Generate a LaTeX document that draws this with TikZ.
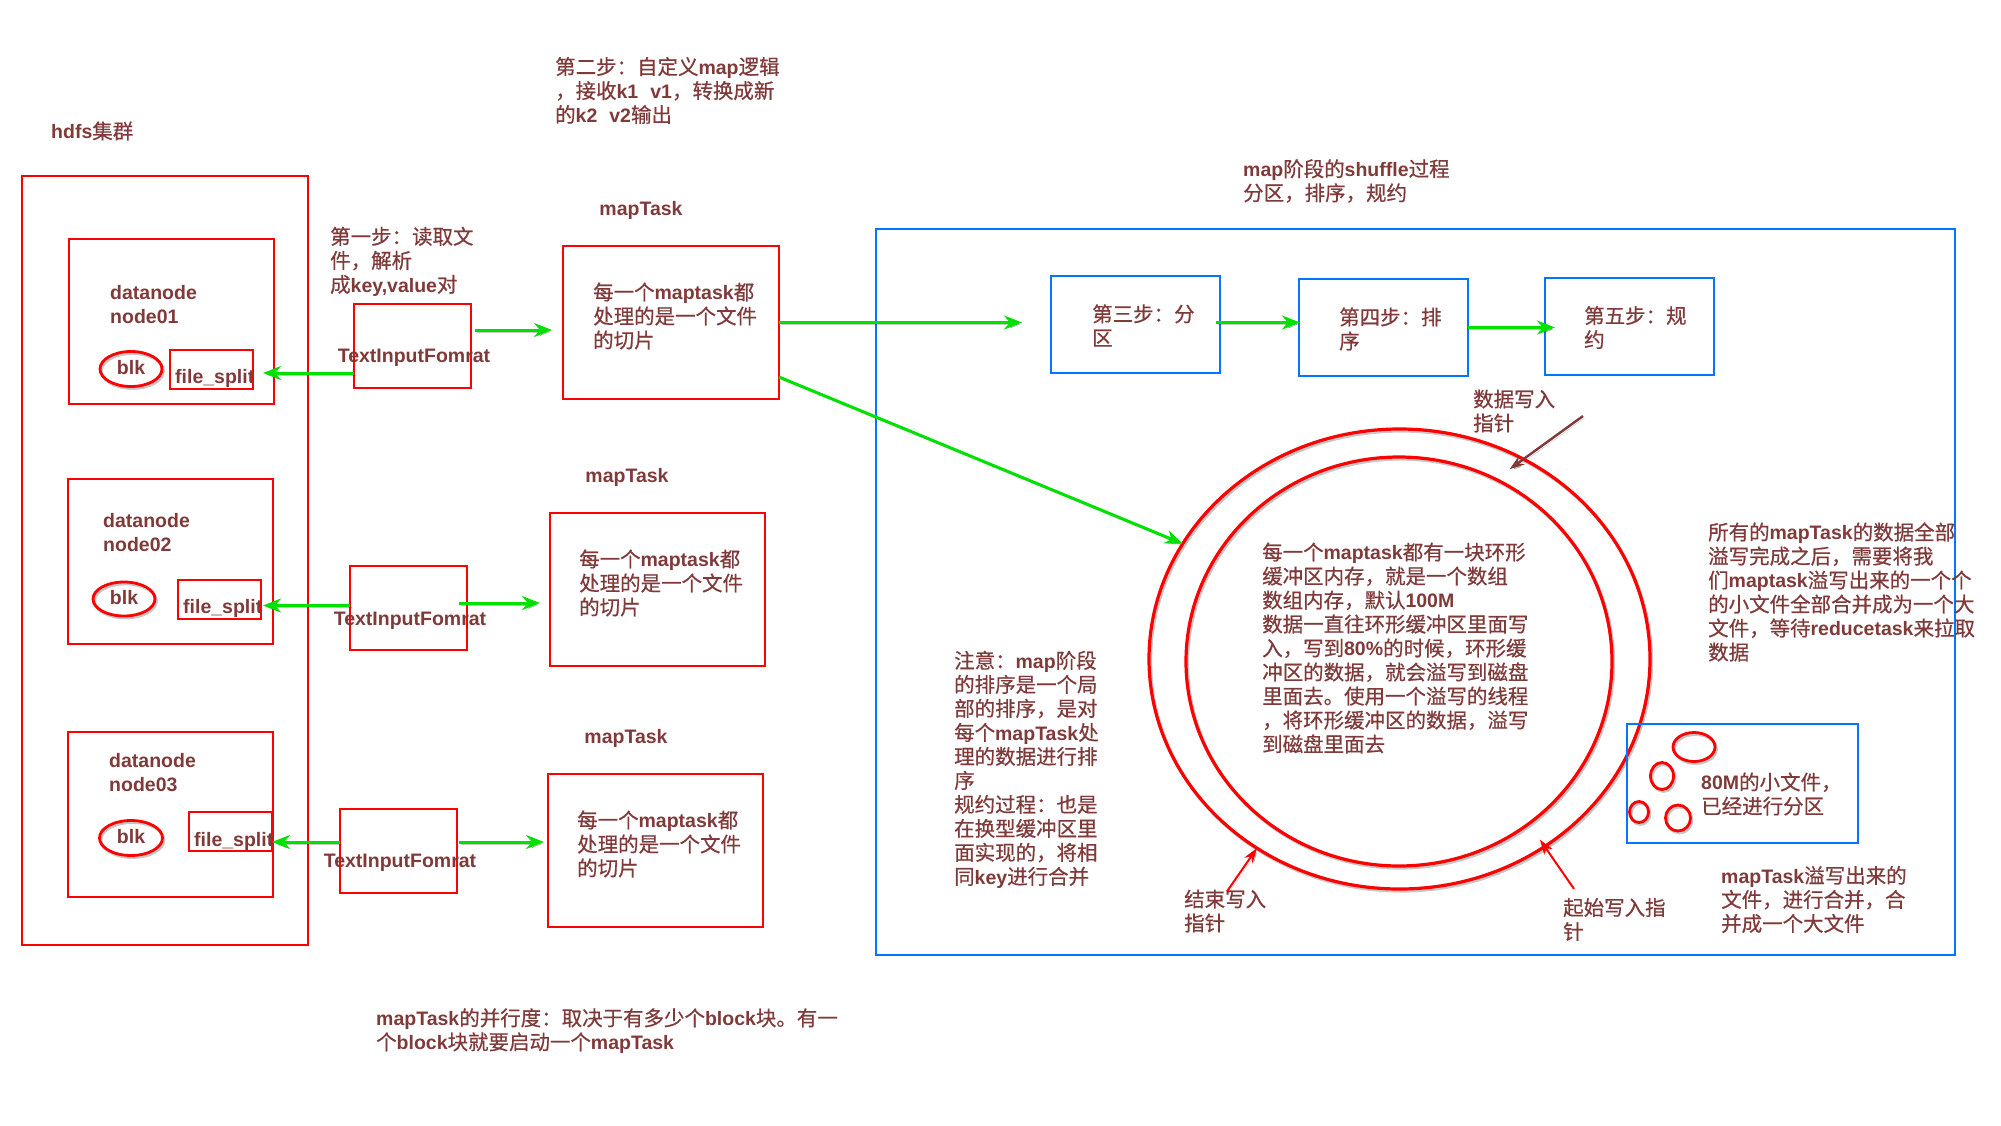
\documentclass[tikz,border=0pt]{standalone}
\usepackage{fontspec}
\usetikzlibrary{shapes.geometric,arrows.meta,calc}
\setmainfont{Liberation Sans}
\newfontfamily\cjkfam{Noto Sans CJK SC}[Scale=1.05, FakeBold=0.6]
\newcommand\latf{\normalfont\bfseries}
\newcommand\cjkf{\cjkfam\mdseries}
% switch fonts automatically between Latin and CJK runs
\XeTeXinterchartokenstate=1
\newXeTeXintercharclass\cjkclass
\newcount\cjkcnt
\newcommand\cjkrange[2]{\cjkcnt=#1\relax
  \loop\XeTeXcharclass\cjkcnt=\cjkclass\relax
  \advance\cjkcnt by 1\relax\ifnum\cjkcnt<#2\relax\repeat}
\cjkrange{"3000}{"3040}
\cjkrange{"4E00}{"A000}
\cjkrange{"FF00}{"FFF0}
\XeTeXinterchartoks 0 \cjkclass = {\cjkf}
\XeTeXinterchartoks 4095 \cjkclass = {\cjkf}
\XeTeXinterchartoks \cjkclass 0 = {\latf}
\XeTeXinterchartoks \cjkclass 4095 = {\latf}

\definecolor{txt}{RGB}{128,58,58}
\definecolor{bblue}{RGB}{0,118,255}
\definecolor{ggreen}{RGB}{0,225,0}

% rectangle node from its two corners
\newcommand\rectnode[6]{%
  \pgfmathsetmacro\rnx{(#3+#5)/2}%
  \pgfmathsetmacro\rny{(#4+#6)/2}%
  \pgfmathsetmacro\rnw{#5-#3}%
  \pgfmathsetmacro\rnh{#6-#4}%
  \node[#1, minimum width=\rnw pt, minimum height=\rnh pt] (#2) at (\rnx,\rny) {};}

\begin{document}
\begin{tikzpicture}[x=1pt,y=-1pt,
  lbl/.style={text=txt, font=\fontsize{19.5}{24}\selectfont\latf, inner sep=0pt, align=left, anchor=west},
  clbl/.style={lbl, anchor=center},
  shade/.style={preaction={draw=black, opacity=0.22, transform canvas={shift={(1.5pt,-2pt)}}}},
  rbox/.style={rectangle, draw=red, line width=2.6pt, inner sep=0pt, outer sep=0pt},
  bbox/.style={rectangle, draw=bblue, line width=2.6pt, inner sep=0pt, outer sep=0pt},
  rell/.style={ellipse, draw=red, line width=2.8pt, inner sep=0pt, outer sep=0pt, shade,
    text=txt, font=\fontsize{19.5}{24}\selectfont\latf},
  ring/.style={ellipse, draw=red, line width=3.2pt, inner sep=0pt, outer sep=0pt, shade},
  garrow/.style={draw=ggreen, line width=3pt, shade, -{Stealth[length=18pt,width=14pt]}},
  rarrow/.style={draw=red, line width=2pt, shade, -{Stealth[length=15pt,width=10pt]}},
  marrow/.style={draw=txt, line width=2.4pt, shade, -{Stealth[length=15pt,width=10pt]}}]

\fill[white] (0,0) rectangle (2001,1125);
\useasboundingbox (0,0) rectangle (2001,1125);

% ---------- HDFS cluster ----------
\node[lbl] (hdfsl) at (51,131) {hdfs集群};
\rectnode{rbox}{hdfs}{22}{176}{308}{945}

\rectnode{rbox}{dn1}{69}{239}{274}{404}
\node[lbl] (dn1t) at (110,304.5) {datanode\\node01};
\node[rell, minimum width=62pt, minimum height=35pt] (blk1) at (131,369) {\raisebox{3pt}{blk}};
\rectnode{rbox}{fs1}{170}{350}{253}{389}
\node[lbl] (fs1t) at (175,378) {file\_split};

\rectnode{rbox}{dn2}{68}{479}{273}{644}
\node[lbl] (dn2t) at (103,533) {datanode\\node02};
\node[rell, minimum width=62pt, minimum height=34pt] (blk2) at (124,599) {\raisebox{3pt}{blk}};
\rectnode{rbox}{fs2}{178}{580}{261}{619}
\node[lbl] (fs2t) at (183,608) {file\_split};

\rectnode{rbox}{dn3}{68}{732}{273}{897}
\node[lbl] (dn3t) at (109,773) {datanode\\node03};
\node[rell, minimum width=63pt, minimum height=35pt] (blk3) at (131,838) {\raisebox{4pt}{blk}};
\rectnode{rbox}{fs3}{189}{812}{272}{851}
\node[lbl] (fs3t) at (194,841) {file\_split};

% ---------- input formats ----------
\node[lbl] (step1) at (330,261.5) {第一步：读取文\\件，解析\\成key,value对};
\rectnode{rbox}{tif1}{354}{304}{471}{388}
\node[clbl] (tif1t) at (414,358) {TextInputFomrat};
\rectnode{rbox}{tif2}{350}{566}{467}{650}
\node[clbl] (tif2t) at (410,620.5) {TextInputFomrat};
\rectnode{rbox}{tif3}{340}{809}{457}{893}
\node[clbl] (tif3t) at (400,863) {TextInputFomrat};

% ---------- map tasks ----------
\node[lbl] (step2) at (555,90.5) {第二步：自定义map逻辑\\，接收k1\hspace{12pt}v1，转换成新\\的k2\hspace{12pt}v2输出};
\node[clbl] (mt1l) at (641,210) {mapTask};
\rectnode{rbox}{mt1}{563}{246}{779}{399}
\node[lbl] (mt1t) at (593,316) {每一个maptask都\\处理的是一个文件\\的切片};
\node[clbl] (mt2l) at (627,477) {mapTask};
\rectnode{rbox}{mt2}{550}{513}{765}{666}
\node[lbl] (mt2t) at (579,583) {每一个maptask都\\处理的是一个文件\\的切片};
\node[clbl] (mt3l) at (626,738) {mapTask};
\rectnode{rbox}{mt3}{548}{774}{763}{927}
\node[lbl] (mt3t) at (577,844) {每一个maptask都\\处理的是一个文件\\的切片};

\node[lbl] (para) at (376,1031) {mapTask的并行度：取决于有多少个block块。有一\\个block块就要启动一个mapTask};

% ---------- shuffle region ----------
\node[lbl] (shufl) at (1243,181) {map阶段的shuffle过程\\分区，排序，规约};
\rectnode{bbox}{shuf}{876}{229}{1955}{955}
\rectnode{bbox}{s3}{1051}{276}{1220}{373}
\node[lbl] (s3t) at (1092,325.5) {第三步：分\\区};
\rectnode{bbox}{s4}{1299}{279}{1468}{376}
\node[lbl] (s4t) at (1339,329) {第四步：排\\序};
\rectnode{bbox}{s5}{1545}{278}{1714}{375}
\node[lbl] (s5t) at (1584,327.5) {第五步：规\\约};

% ring buffer
\node[ring, minimum width=501pt, minimum height=460pt] (ringout) at (1399.5,659) {};
\node[ring, minimum width=426pt, minimum height=409pt] (ringin) at (1399,661.5) {};
\node[lbl] (ringt) at (1262,648) {每一个maptask都有一块环形\\缓冲区内存，就是一个数组\\数组内存，默认100M\\数据一直往环形缓冲区里面写\\入，写到80\%的时候，环形缓\\冲区的数据，就会溢写到磁盘\\里面去。使用一个溢写的线程\\，将环形缓冲区的数据，溢写\\到磁盘里面去};

\node[lbl] (wptr) at (1473,411) {数据写入\\指针};
\coordinate (wptrs) at (1583,416);
\node[lbl] (endl) at (1184,911) {结束写入\\指针};
\node[lbl] (startl) at (1563,919.5) {起始写入指\\针};

\node[lbl] (note) at (954,769.5) {注意：map阶段\\的排序是一个局\\部的排序，是对\\每个mapTask处\\理的数据进行排\\序\\规约过程：也是\\在换型缓冲区里\\面实现的，将相\\同key进行合并};

\node[lbl] (allt) at (1708,592) {所有的mapTask的数据全部\\溢写完成之后，需要将我\\们maptask溢写出来的一个个\\的小文件全部合并成为一个大\\文件，等待reducetask来拉取\\数据};

% spilled files
\rectnode{bbox}{spill}{1627}{724}{1858}{843}
\node[rell, minimum width=42pt, minimum height=29pt] (f1) at (1694,747) {};
\node[rell, minimum width=23pt, minimum height=27pt] (f2) at (1662,776) {};
\node[rell, minimum width=19pt, minimum height=21pt] (f3) at (1639,812) {};
\node[rell, minimum width=25pt, minimum height=26pt] (f4) at (1678,818) {};
\node[lbl] (spillt) at (1701,794) {80M的小文件，\\已经进行分区};
\node[lbl] (merget) at (1721,899.5) {mapTask溢写出来的\\文件，进行合并，合\\并成一个大文件};

% ---------- connectors ----------
\draw[garrow] ($(tif1.west |- fs1.east)+(0,3.5)$) -- ($(fs1.east)+(10,3.5)$);
\draw[garrow] ($(tif2.west |- fs2.east)+(0,6)$) -- ($(fs2.east)+(2,6)$);
\draw[garrow] ($(tif3.west |- fs3.east)+(0,10.5)$) -- ($(fs3.east)+(0,10.5)$);

\draw[garrow] ($(tif1.east)+(4,-16)$) -- ($(mt1.west |- tif1.east)+(-11,-16)$);
\draw[garrow] ($(tif2.east)+(-8,-5)$) -- ($(mt2.west |- tif2.east)+(-10,-5)$);
\draw[garrow] ($(tif3.east)+(2,-9)$) -- ($(mt3.west |- tif3.east)+(-4,-9)$);

\draw[garrow] (mt1.east) -- ($(s3.west |- mt1.east)+(-29,0)$);
\draw[garrow] ($(s3.east)+(-4,-2)$) -- ($(s4.west |- s3.east)+(1,-2)$);
\draw[garrow] (s4.east) -- ($(s5.west |- s4.east)+(10,0)$);
\draw[garrow] ($(mt1.south east)+(0,-22)$) -- (ringout.152);

\draw[marrow] (wptrs) -- ($(ringout.60)!0.5!(ringin.60)$);
\draw[rarrow] ($(endl.north west)+(43,2)$) -- (ringout.233);
\draw[rarrow] ($(startl.north west)+(11,-9)$) -- ($(ringout.308)!0.3!(ringin.308)$);

\end{tikzpicture}
\end{document}
